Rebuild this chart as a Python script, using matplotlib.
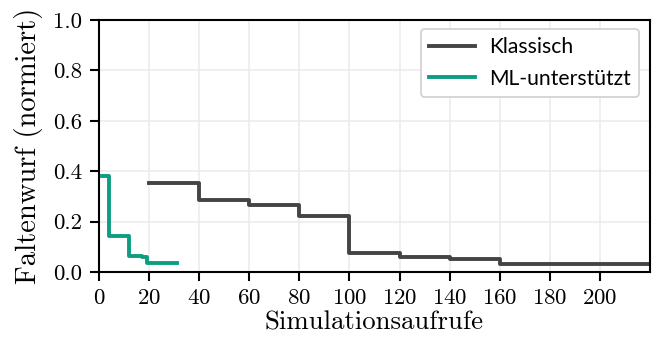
import matplotlib
matplotlib.use("Agg")
import matplotlib.pyplot as plt

plt.rcParams['axes.formatter.use_mathtext'] = True

classic_x = [20, 40, 60, 80, 100, 120, 140, 160, 220]
classic_y = [0.352, 0.285, 0.266, 0.223, 0.076, 0.060, 0.053, 0.032, 0.032]
ml_x = [1, 4, 12, 17, 19, 31]
ml_y = [0.382, 0.143, 0.064, 0.058, 0.034, 0.034]
xticks = [0, 20, 40, 60, 80, 100, 120, 140, 160, 180, 200]
yticks = [0.0, 0.2, 0.4, 0.6, 0.8, 1.0]

fig = plt.figure(figsize=(6.57, 3.43), dpi=100)
ax = fig.add_axes([99/657, 1 - 272/343, (650-99)/657, (272-20)/343])

ax.plot(classic_x, classic_y, drawstyle='steps-post', color='#444444', lw=2.8, label='Klassisch')
ax.plot(ml_x, ml_y, drawstyle='steps-post', color='#0f9d82', lw=2.8, label='ML-unterstützt')

ax.set_xlim(0, 220)
ax.set_ylim(0, 1.0)
ax.set_xticks(xticks)
ax.set_yticks(yticks)
ax.set_yticklabels([f"{v:.1f}" for v in yticks])
ax.grid(True, color='#ebebeb', lw=1.1)
ax.set_axisbelow(True)
for s in ax.spines.values():
    s.set_linewidth(1.5)
    s.set_color('black')
ax.tick_params(direction='out', length=6.5, width=1.5, labelsize=16.5)
ax.tick_params(axis='x', pad=5.5)
ax.tick_params(axis='y', pad=5.5)
for lab in ax.get_xticklabels() + ax.get_yticklabels():
    lab.set_fontfamily('cmr10')

ax.set_xlabel('Simulationsaufrufe', fontfamily='cmr10', fontsize=19.3, labelpad=2)
ax.set_ylabel('Faltenwurf (normiert)', fontfamily='cmr10', fontsize=20.6, labelpad=7)

leg = ax.legend(loc='upper right', prop={'family': 'Lato', 'size': 15.2},
                frameon=True, fancybox=True, edgecolor='#d0d0d0', framealpha=1,
                handlelength=2.18, borderpad=0.38, labelspacing=0.56, handletextpad=0.66,
                borderaxespad=0, bbox_to_anchor=((639-99)/551, (272-29)/252))
leg.get_frame().set_linewidth(1.2)

fig.savefig('out.png', dpi=100)
